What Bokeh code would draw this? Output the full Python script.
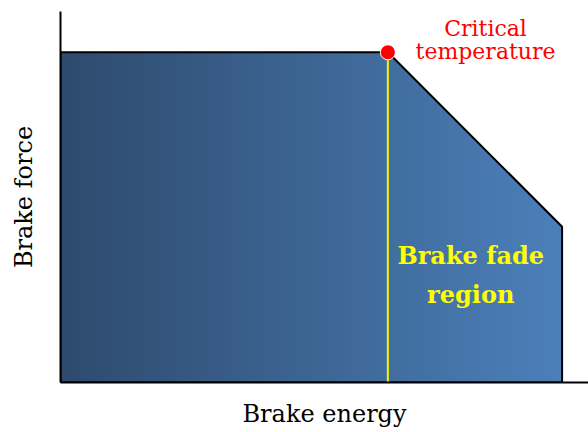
import numpy as np
from bokeh.plotting import figure
from bokeh.models import Range1d, Label, FixedTicker
from bokeh.embed import file_html
from bokeh.resources import INLINE

# Data (arbitrary units, 0-100 scale)
brake_energy = [0, 62, 95]      # start, critical temperature point, end
brake_force = [89, 89, 42]      # force at those energies
critical_energy = 62
critical_force = 89

x_label = "Brake energy"
y_label = "Brake force"
critical_text = "Critical\ntemperature"
fade_text = "Brake fade\nregion"

p = figure(width=588, height=432, output_backend="svg", toolbar_location=None,
           x_range=Range1d(0, 100), y_range=Range1d(0, 100),
           min_border_left=60, min_border_right=0, min_border_top=11, min_border_bottom=50)
p.outline_line_color = None
p.grid.visible = False
p.background_fill_color = "white"

for ax in (p.xaxis[0], p.yaxis[0]):
    ax.ticker = FixedTicker(ticks=[])
    ax.major_tick_line_color = None
    ax.minor_tick_line_color = None
    ax.major_tick_out = 0
    ax.major_tick_in = 0
    ax.axis_line_color = "black"
    ax.axis_line_width = 2
    ax.axis_label_text_font = "DejaVu Serif"
    ax.axis_label_text_font_style = "normal"
    ax.axis_label_text_font_size = "24px"
    ax.axis_label_text_color = "black"

p.yaxis.axis_label = y_label
p.yaxis.axis_label_standoff = 23
p.xaxis.axis_label = x_label
p.xaxis.axis_label_standoff = 17

# Gradient fill (left dark blue -> right lighter blue), transparent above the force curve
x_end = brake_energy[-1]
y_top = max(brake_force)
W, H = 500, 330
c0 = np.array([46, 75, 110])
c1 = np.array([76, 128, 186])
xs = (np.arange(W) + 0.5) / W * x_end
ys = (np.arange(H) + 0.5) / H * y_top
limit = np.interp(xs, brake_energy, brake_force)
tt = np.linspace(0, 1, W)
img = np.empty((H, W), dtype=np.uint32)
view = img.view(dtype=np.uint8).reshape((H, W, 4))
for k in range(3):
    view[:, :, k] = (c0[k] + (c1[k] - c0[k]) * tt).astype(np.uint8)[None, :]
view[:, :, 3] = np.where(ys[:, None] <= limit[None, :], 255, 0).astype(np.uint8)
p.image_rgba(image=[img], x=0, y=0, dw=x_end, dh=y_top)

# outline
poly_x = brake_energy + [brake_energy[-1], 0, 0]
poly_y = brake_force + [0, 0, brake_force[0]]
p.line(poly_x, poly_y, line_color="black", line_width=2)

# yellow boundary
p.segment(x0=[critical_energy], y0=[critical_force], x1=[critical_energy], y1=[0],
          line_color="#f5f500", line_width=2)

# critical point
p.scatter([critical_energy], [critical_force], size=15, fill_color="red",
          line_color="white", line_width=1)

p.add_layout(Label(x=80.5, y=92.3, text=critical_text, text_font="DejaVu Serif",
                   text_font_size="22px", text_color="red", text_align="center",
                   text_baseline="middle", text_line_height=0.95))
p.add_layout(Label(x=77.7, y=29, text=fade_text, text_font="DejaVu Serif",
                   text_font_size="24px", text_font_style="bold", text_color="#ffff00",
                   text_align="center", text_baseline="middle", text_line_height=1.35))

open("out.html", "w").write(file_html(p, INLINE))
